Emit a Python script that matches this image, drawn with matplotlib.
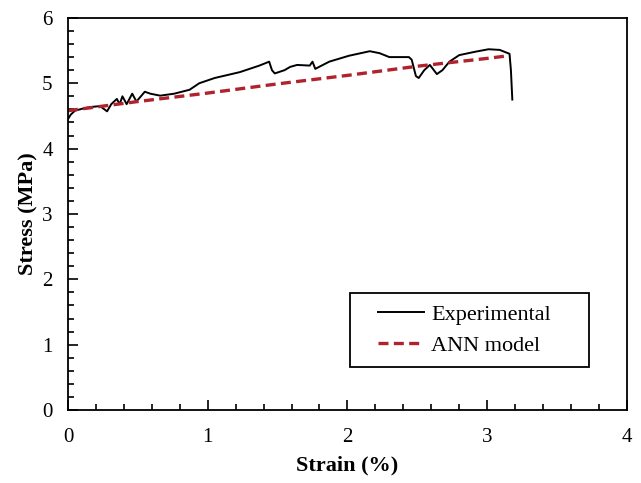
import matplotlib
matplotlib.use("Agg")
import matplotlib.pyplot as plt
from matplotlib.ticker import MultipleLocator
from matplotlib.patches import Rectangle

# Experimental stress-strain record
exp_strain = [0.00, 0.02, 0.05, 0.12, 0.18, 0.23, 0.28, 0.31, 0.35, 0.37, 0.39, 0.42,
              0.46, 0.49, 0.55, 0.59, 0.66, 0.76, 0.87, 0.94, 1.05, 1.23, 1.37, 1.44,
              1.46, 1.48, 1.55, 1.59, 1.64, 1.73, 1.75, 1.77, 1.87, 2.01, 2.16, 2.23,
              2.30, 2.44, 2.46, 2.49, 2.51, 2.55, 2.59, 2.64, 2.68, 2.73, 2.80, 2.91,
              3.01, 3.09, 3.16, 3.17, 3.18]
exp_stress = [4.45, 4.52, 4.58, 4.62, 4.64, 4.65, 4.57, 4.68, 4.76, 4.68, 4.80, 4.68,
              4.84, 4.72, 4.87, 4.84, 4.81, 4.84, 4.90, 5.00, 5.08, 5.17, 5.27, 5.33,
              5.20, 5.15, 5.20, 5.25, 5.28, 5.27, 5.33, 5.22, 5.33, 5.42, 5.49, 5.46,
              5.40, 5.40, 5.36, 5.11, 5.08, 5.20, 5.28, 5.14, 5.20, 5.33, 5.43, 5.48,
              5.52, 5.51, 5.45, 5.20, 4.75]

# ANN model prediction
ann_strain = [0.00, 0.50, 1.00, 1.50, 2.00, 2.50, 3.00, 3.15]
ann_stress = [4.58, 4.72, 4.85, 4.99, 5.12, 5.26, 5.38, 5.42]

x_ticks = [0, 1, 2, 3, 4]
y_ticks = [0, 1, 2, 3, 4, 5, 6]

plt.rcParams['font.family'] = ['Liberation Serif', 'DejaVu Serif']

fig = plt.figure(figsize=(6.41, 4.83), dpi=100)
ax = fig.add_axes([0.106, 0.151, 0.872, 0.812])

ax.plot(exp_strain, exp_stress, color='black', lw=1.4, label='Experimental')
ax.plot(ann_strain, ann_stress, color='#b0222c', lw=2.4, ls=(0, (3, 1.6)),
        label='ANN model')

ax.set_xlim(0, 4)
ax.set_ylim(0, 6)
ax.set_xticks(x_ticks)
ax.set_yticks(y_ticks)
ax.xaxis.set_minor_locator(MultipleLocator(0.2))
ax.yaxis.set_minor_locator(MultipleLocator(0.2))
ax.tick_params(which='both', direction='in', top=False, right=False,
               labelsize=15, width=1.2)
ax.tick_params(axis='x', which='both', pad=13)
ax.tick_params(axis='y', which='both', pad=11)
ax.tick_params(which='major', length=7)
ax.tick_params(which='minor', length=4)
for s in ax.spines.values():
    s.set_linewidth(1.3)

ax.set_xlabel('Strain (%)', fontsize=16, fontweight='bold', labelpad=6)
ax.set_ylabel('Stress (MPa)', fontsize=16, fontweight='bold', labelpad=3)

# legend entries with a wider, squared-off outline drawn around them
ax.add_patch(Rectangle((0.504, 0.110), 0.428, 0.188, transform=ax.transAxes,
                       facecolor='white', edgecolor='black', lw=1.3, zorder=4))
leg = ax.legend(loc='center left', bbox_to_anchor=(0.554, 0.204), fontsize=16,
                frameon=False, handlelength=2.1, handletextpad=0.3,
                borderpad=0, borderaxespad=0, labelspacing=0.45)
leg.set_zorder(5)

fig.savefig('out.png', dpi=100)
